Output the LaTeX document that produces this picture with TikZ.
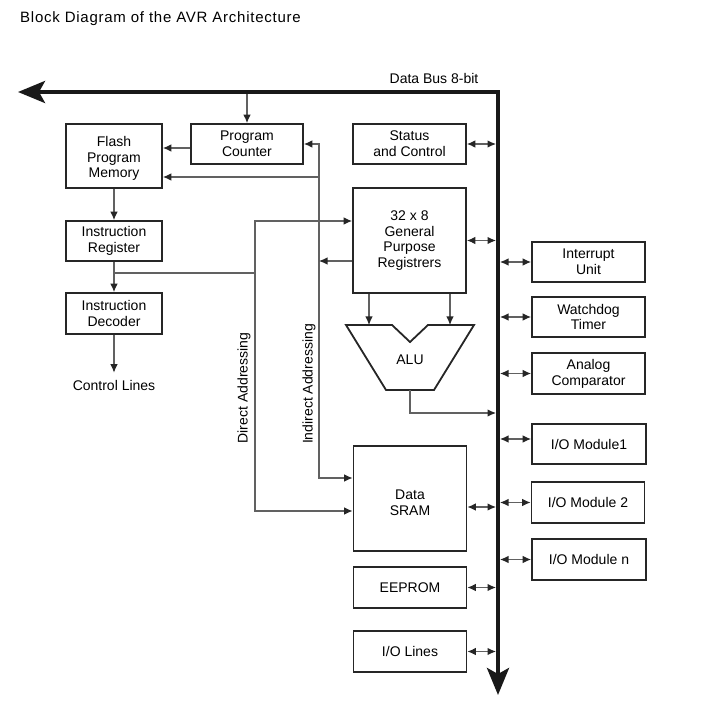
\documentclass[tikz,border=0pt]{standalone}
\usepackage{fontspec}
\setmainfont{Liberation Sans}
\usetikzlibrary{arrows.meta,calc}
\newcommand{\lowered}[2]{\raisebox{-#1}[\height][\depth]{\begin{tabular}{@{}c@{}}#2\end{tabular}}}
\begin{document}
\begin{tikzpicture}[x=1pt,y=-1pt,
 blk/.style={draw=black!85,line width=1.8pt,minimum width=113pt,minimum height=40pt,inner sep=0pt,align=center,font=\fontsize{14}{15.8}\selectfont,text=black},
 conn/.style={draw=black!62,line width=1.1pt},
 ar/.style={conn,-{Latex[length=8.5pt,width=7.5pt,color=black!85]}},
 dar/.style={conn,{Latex[length=8.5pt,width=7.5pt,color=black!85]}-{Latex[length=8.5pt,width=7.5pt,color=black!85]}},
 lbl/.style={font=\fontsize{14}{15.8}\selectfont,inner sep=0pt,text=black},
 bus/.style={line width=4pt,draw=black!90,{Stealth[length=27pt,width=22pt,inset=6pt]}-{Stealth[length=27pt,width=22pt,inset=6pt]}}
]
\useasboundingbox (0,0) rectangle (709,708);
\node[lbl,anchor=west,font=\fontsize{15}{17}\selectfont\addfontfeature{LetterSpace=5}] (title) at (20,19) {Block Diagram of the AVR Architecture};

% bus
\coordinate (bl) at (18,92);
\coordinate (bc) at (498,92);
\coordinate (bb) at (498,695);
\draw[bus] (bl) -- (bc) -- (bb);
\node[lbl] (buslbl) at (434,78) {Data Bus 8-bit};
\coordinate (busL) at (496,0);
\coordinate (busR) at (500,0);

% blocks
\node[blk,minimum width=96pt,minimum height=64pt] (flash) at (114,156) {\lowered{3pt}{Flash\\Program\\Memory}};
\node[blk,minimum width=112pt] (pc) at (247,144) {Program\\Counter};
\node[blk] (status) at (409.5,144) {Status\\and Control};
\node[blk,minimum width=96pt] (ir) at (114,241) {Instruction\\Register};
\node[blk,minimum width=96pt,minimum height=41pt] (id) at (114,313.5) {Instruction\\Decoder};
\node[lbl] (ctrl) at (114,385) {Control Lines};
\node[blk,minimum height=105pt] (regs) at (409.5,240.5) {32 x 8\\General\\Purpose\\Registrers};
\node[blk,minimum height=105pt] (sram) at (410,498.5) {\lowered{6pt}{Data\\SRAM}};
\node[blk,minimum height=41pt] (eeprom) at (410,587.5) {EEPROM};
\node[blk,minimum height=41pt] (iolines) at (410,651.5) {I/O Lines};
\node[blk] (intr) at (588.5,262) {Interrupt\\Unit};
\node[blk] (wdt) at (588.5,317) {Watchdog\\Timer};
\node[blk,minimum height=41pt] (anc) at (588.5,373.5) {Analog\\Comparator};
\node[blk,minimum width=114pt] (io1) at (589,444) {I/O Module1};
\node[blk,minimum height=41pt] (io2) at (588,502.5) {I/O Module 2};
\node[blk,minimum width=114pt,minimum height=41pt] (ion) at (589,559.5) {I/O Module n};

% ALU
\draw[draw=black!85,line width=1.8pt,line join=miter] (346,325) -- (392,325) -- (410,342) -- (428,325) -- (474,325) -- (434,390) -- (386,390) -- cycle;
\node[lbl] (alu) at (410,360) {ALU};

% rotated labels
\node[lbl,rotate=90] (dlab) at (244,388) {Direct Addressing};
\node[lbl,rotate=90] (ilab) at (309,384) {Indirect Addressing};

% connectors
\coordinate (pcb) at (247,94);
\draw[ar] (pcb) -- (pc.north);
\draw[ar] ([yshift=-4pt]pc.west) -- ([yshift=-4pt]pc.west -| flash.east);
\draw[ar] (flash) -- (ir);
\draw[ar] (ir) -- (id);
\draw[ar] (id) -- ([yshift=7pt]ctrl.north);

\coordinate (ibot) at (319,478);
\draw[dar] (pc.east) -| (ibot) -- (ibot -| sram.west);
\coordinate (ifl) at (319,177);
\draw[ar] (ifl) -- (ifl -| flash.east);
\coordinate (ireg) at (319,261);
\draw[ar] (ireg -| regs.west) -- (ireg);

\coordinate (dtop) at (255,221);
\coordinate (dbot) at (255,511);
\draw[dar] (dtop -| regs.west) -- (dtop) -- (dbot) -- (dbot -| sram.west);
\coordinate (irj) at (114,273);
\coordinate (dj) at (255,273);
\draw[conn] (irj) -- (dj);

\coordinate (a1) at (369,325);
\coordinate (a2) at (450,325);
\draw[ar] (a1 |- regs.south) -- (a1);
\draw[ar] (a2 |- regs.south) -- (a2);
\coordinate (ao) at (410,390);
\coordinate (aoc) at (410,413);
\coordinate (aob) at (496,413);
\draw[ar] (ao) -- (aoc) -- (aob);

% bus links, left side
\draw[dar] (status.east) -- (status.east -| busL);
\draw[dar] (regs.east) -- (regs.east -| busL);
\draw[dar] ([yshift=-8.5pt]sram.east) -- ([yshift=-8.5pt]sram.east -| busL);
\draw[dar] (eeprom.east) -- (eeprom.east -| busL);
\draw[dar] (iolines.east) -- (iolines.east -| busL);
% bus links, right side
\draw[dar] (intr.west -| busR) -- (intr.west);
\draw[dar] (wdt.west -| busR) -- (wdt.west);
\draw[dar] (anc.west -| busR) -- (anc.west);
\draw[dar] ([yshift=5pt]io1.west -| busR) -- ([yshift=5pt]io1.west);
\draw[dar] (io2.west -| busR) -- (io2.west);
\draw[dar] (ion.west -| busR) -- (ion.west);
\end{tikzpicture}
\end{document}
